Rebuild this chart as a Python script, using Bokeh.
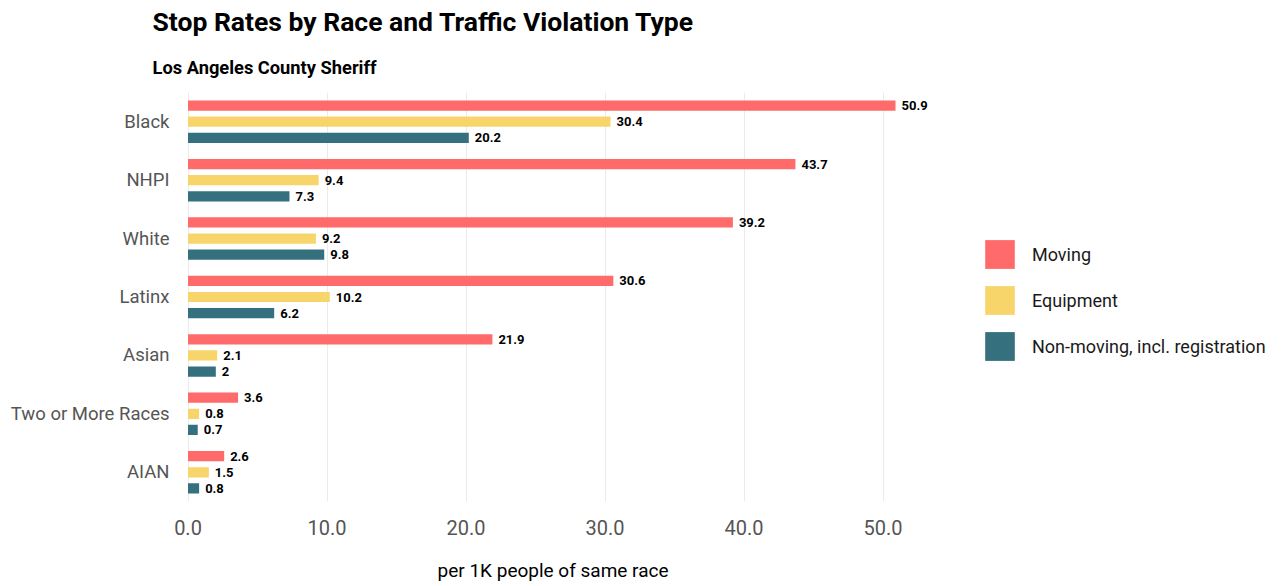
from bokeh.plotting import figure
from bokeh.models import ColumnDataSource, FactorRange, Legend, LegendItem, Title, LabelSet
from bokeh.core.properties import value
from bokeh.transform import dodge
from bokeh.embed import file_html
from bokeh.resources import INLINE

races = ["Black", "NHPI", "White", "Latinx", "Asian", "Two or More Races", "AIAN"]
moving = [50.9, 43.7, 39.2, 30.6, 21.9, 3.6, 2.6]
equipment = [30.4, 9.4, 9.2, 10.2, 2.1, 0.8, 1.5]
nonmoving = [20.2, 7.3, 9.8, 6.2, 2.0, 0.7, 0.8]
series_names = ["Moving", "Equipment", "Non-moving, incl. registration"]
colors = ["#ff6b6b", "#f7d56b", "#35707f"]
x_ticks = [0, 10, 20, 30, 40, 50]

FONT = "Roboto"

src = ColumnDataSource(dict(
    race=races,
    moving=moving, equipment=equipment, nonmoving=nonmoving,
    moving_lbl=[f"{v:g}" for v in moving],
    equipment_lbl=[f"{v:g}" for v in equipment],
    nonmoving_lbl=[f"{v:g}" for v in nonmoving],
))

FRAME_W = 1092
PX_PER_UNIT = 13.9
x_start = -0.9
p = figure(frame_width=FRAME_W, frame_height=409,
           output_backend="svg", toolbar_location=None,
           y_range=FactorRange(*list(reversed(races)), range_padding=0.0),
           x_range=(x_start, x_start + FRAME_W / PX_PER_UNIT),
           min_border_left=175, min_border_right=0, min_border_top=88, min_border_bottom=0)
p.outline_line_color = None
p.background_fill_color = "white"

offsets = [0.276, 0.0, -0.276]
fields = ["moving", "equipment", "nonmoving"]
renderers = []
for f, off, c in zip(fields, offsets, colors):
    r = p.hbar(y=dodge("race", off, range=p.y_range), right=f, left=0, height=0.175,
               source=src, fill_color=c, line_color=None)
    renderers.append(r)
    lbl = LabelSet(x=f, y=dodge("race", off, range=p.y_range), text=f + "_lbl", source=src,
                   x_offset=6, text_baseline="middle", text_align="left",
                   text_font=value(FONT), text_font_style="bold", text_font_size="13px",
                   text_color="black")
    p.add_layout(lbl)

legend = Legend(items=[LegendItem(label=n, renderers=[r]) for n, r in zip(series_names, renderers)],
                location=(806, 137), margin=0, padding=0, spacing=10,
                glyph_width=37, glyph_height=36, label_text_font=FONT,
                label_text_font_size="18px", label_text_color="#1a1a1a",
                label_standoff=14, border_line_color=None, background_fill_alpha=0)
p.add_layout(legend)

p.xaxis.ticker = x_ticks
p.xaxis.major_label_overrides = {t: f"{t:.1f}" for t in x_ticks}
p.xaxis.axis_line_color = None
p.xaxis.major_tick_line_color = None
p.xaxis.minor_tick_line_color = None
p.xaxis.major_label_text_font = FONT
p.xaxis.major_label_text_font_size = "20px"
p.xaxis.major_label_text_color = "#555555"
p.xaxis.major_label_standoff = 12

p.yaxis.axis_line_color = None
p.yaxis.major_tick_line_color = None
p.yaxis.minor_tick_line_color = None
p.yaxis.major_label_text_font = FONT
p.yaxis.major_label_text_font_size = "18.5px"
p.yaxis.major_label_text_color = "#555555"
p.yaxis.major_label_standoff = 0

p.ygrid.grid_line_color = None
p.xgrid.grid_line_color = "#ebebeb"
p.xgrid.grid_line_width = 1

p.add_layout(Title(text="per 1K people of same race", text_font=FONT, text_font_size="19px",
                   text_font_style="normal", text_color="black", align="left", offset=262,
                   standoff=39), "below")

p.add_layout(Title(text="Los Angeles County Sheriff", text_font=FONT, text_font_size="18.3px",
                   text_font_style="bold", text_color="black", align="left", offset=-23,
                   standoff=30), "above")
p.add_layout(Title(text="Stop Rates by Race and Traffic Violation Type", text_font=FONT,
                   text_font_size="26.5px", text_font_style="bold", text_color="black",
                   align="left", offset=-23, standoff=6), "above")

open("out.html", "w").write(file_html(p, INLINE))
